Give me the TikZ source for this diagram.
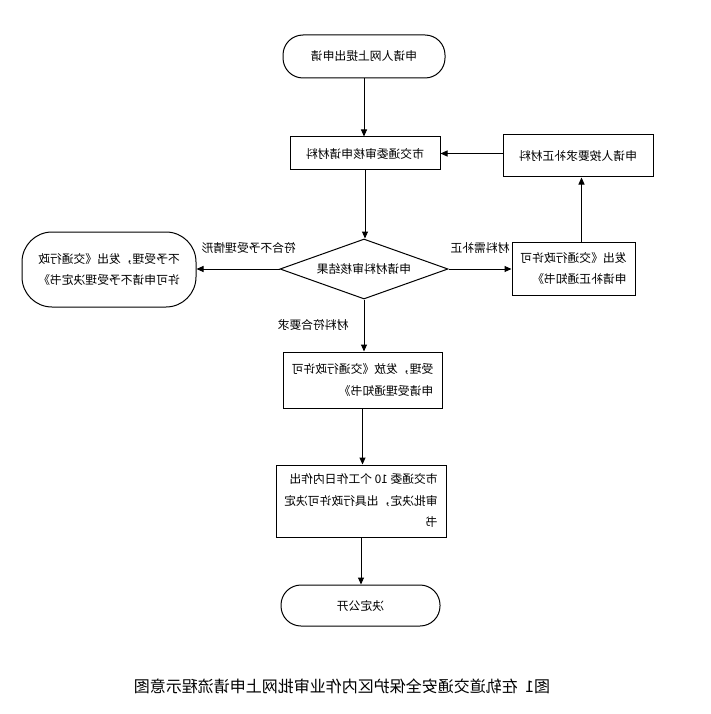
\documentclass[tikz,border=0pt]{standalone}
\usepackage{fontspec}
\usepackage{graphicx}
\setmainfont{Noto Sans CJK SC}
\usetikzlibrary{arrows.meta,shapes.geometric}
\newcommand{\mirtext}[1]{\reflectbox{#1}}
\newcommand{\mirlines}[1]{\reflectbox{\begin{tabular}{@{}l@{}}#1\end{tabular}}}
\begin{document}
\begin{tikzpicture}[x=1pt,y=-1pt,
  font=\fontsize{11.8}{21.5}\selectfont,
  box/.style={draw, line width=1pt, inner sep=0pt, align=center},
  rbox/.style={box, rounded corners=20pt},
  arr/.style={draw, line width=1pt, -{Triangle[length=7pt,width=6pt]}},
  lbl/.style={inner sep=0pt}]
\fill[white] (0,0) rectangle (711,714);
\useasboundingbox (0,0) rectangle (711,714);

\node[rbox, minimum width=162pt, minimum height=43pt] (start) at (364,56.5) {\mirtext{申请人网上提出申请}};
\node[box, minimum width=150pt, minimum height=33pt] (review) at (365,153.5) {\mirtext{市交通委审核申请材料}};
\node[box, minimum width=150pt, minimum height=42pt] (supp) at (578,156) {\mirtext{申请人按要求补正材料}};
\node[box, shape=diamond, aspect=2.8, minimum width=168pt, minimum height=60pt] (dia) at (364,269) {\mirtext{申请材料审核结果}};
\node[rbox, rounded corners=30pt, minimum width=174pt, minimum height=75pt] (reject) at (109,269.5) {\mirlines{不予受理，发出《交通行政\\许可申请不予受理决定书》}};
\node[box, minimum width=123pt, minimum height=53pt] (notice) at (573.5,268.5) {\mirlines{发出《交通行政许可\\申请补正通知书》}};
\node[box, minimum width=159pt, minimum height=56pt] (accept) at (362.5,380) {\mirlines{受理，发放《交通行政许可\\申请受理通知书》}};
\node[box, minimum width=170pt, minimum height=72pt] (decide) at (361,501) {\mirlines{市交通委 10 个工作日内作出\\审批决定，出具行政许可决定\\书}};
\node[rbox, minimum width=159pt, minimum height=41pt] (public) at (360.5,605.5) {\mirtext{决定公开}};

\draw[arr] (start.south) -- (start.south |- review.north);
\draw[arr] (review.south) -- (review.south |- dia.north);
\draw[arr] (supp.west |- review.east) -- (review.east);
\draw[arr] (dia.west) -- (reject.east |- dia.west) node[lbl, pos=0.37, above=15pt] {\mirtext{符合不予受理情形}};
\draw[arr] (dia.east) -- (notice.west |- dia.east) node[lbl, midway, above=15pt] {\mirtext{材料需补正}};
\draw[arr] ([xshift=8pt]notice.north) -- ([xshift=8pt]notice.north |- supp.south);
\draw[arr] (dia.south) -- (dia.south |- accept.north) node[lbl, pos=0.5, left=15pt] {\mirtext{材料符合要求}};
\draw[arr] (accept.south) -- (accept.south |- decide.north);
\draw[arr] (decide.south) -- (decide.south |- public.north);

\node[lbl, font=\fontsize{16}{18}\selectfont] (caption) at (342,686) {\mirtext{图1\ \ 在轨道交通安全保护区内作业审批网上申请流程示意图}};
\end{tikzpicture}
\end{document}
